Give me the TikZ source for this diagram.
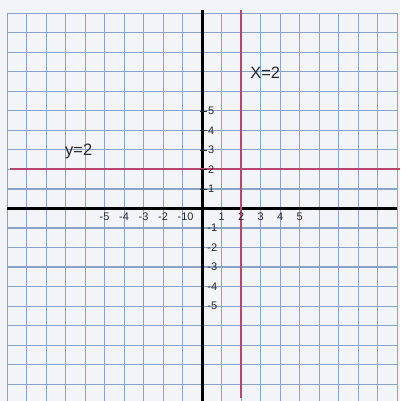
\documentclass[tikz,border=0pt]{standalone}
\usepackage{fontspec}
\setmainfont{Liberation Sans}
\definecolor{papier}{RGB}{243,244,248}
\definecolor{grillebleue}{RGB}{138,164,200}
\definecolor{lignerouge}{RGB}{186,70,112}
\definecolor{encre}{RGB}{40,40,40}
\tikzset{
  grad/.style={font=\fontsize{8}{9}\selectfont, text=encre, inner sep=0pt},
  eq/.style={font=\fontsize{12}{14}\selectfont, text=encre, inner sep=0pt, anchor=base west},
  rouge/.style={draw=lignerouge, line width=1.6pt}
}
\begin{document}
\begin{tikzpicture}[x=0.5cm, y=0.5cm]
  % --- feuille ---
  \fill[papier] (-10.36,-9.87) rectangle (10.15,10.69);
  \useasboundingbox (-10.36,-9.87) rectangle (10.15,10.69);
  % quadrillage
  \draw[grillebleue, line width=0.75pt, step=1] (-10,-9.87) grid (10,10);
  % axes
  \draw[black, line width=2.2pt] (-10,0) -- (10,0);
  \draw[black, line width=2.2pt] (0,10.18) -- (0,-9.87);
  % droites x=2 et y=2
  \coordinate (hautX) at (2,10.18);
  \coordinate (basX) at (2,-9.7);
  \coordinate (gaucheY) at (-9.85,2.02);
  \coordinate (droiteY) at (10.15,2.02);
  \draw[rouge] (hautX) -- (basX);
  \draw[rouge] (gaucheY) -- (droiteY);
  % --- graduations ---
  \foreach \x in {-5,-4,-3,-2,-1,1,2,3,4,5}{
    \node[grad, anchor=base] (gx\x) at (\x,-0.6) {\x};
  }
  \node[grad, anchor=base] (gx0) at (-0.6,-0.6) {0};
  \foreach \y in {1,...,5}{
    \draw[encre, line width=0.6pt] (-0.1,\y) -- (0.25,\y);
    \node[grad, anchor=west] (gy\y) at (0.3,\y) {\y};
  }
  \foreach \y in {-1,-2,-3,-4,-5}{
    \node[grad, anchor=west] (gy\y) at (0.26,\y) {\y};
  }
  % --- equations ---
  \node[eq] (eqX) at (2.46,6.69) {X=2};
  \node[eq] (eqY) at (-7.03,2.74) {y=2};
\end{tikzpicture}
\end{document}
